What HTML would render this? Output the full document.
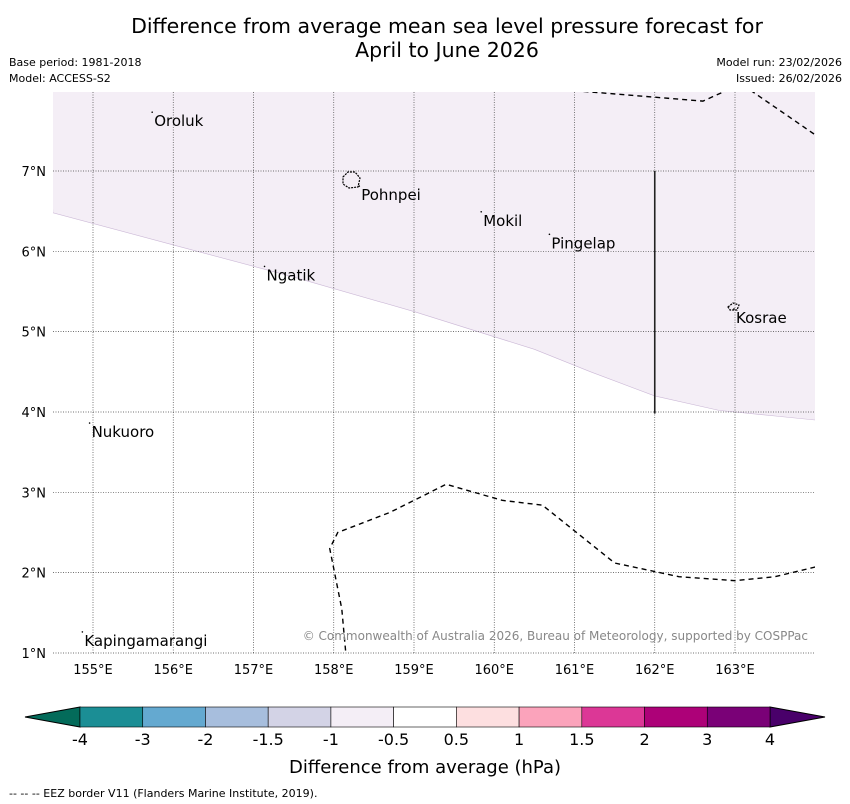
<!DOCTYPE html>
<html><head><meta charset="utf-8"><style>
body{margin:0;background:#fff;font-family:"Liberation Sans","DejaVu Sans",sans-serif;}
svg{display:block}
</style></head><body>
<svg width="850" height="804" viewBox="0 0 850 804" xmlns="http://www.w3.org/2000/svg" font-family="DejaVu Sans, Liberation Sans, sans-serif">
<rect width="850" height="804" fill="#fff"/>
<text x="447" y="33" font-size="20.5" text-anchor="middle">Difference from average mean sea level pressure forecast for</text>
<text x="447" y="57" font-size="20.5" text-anchor="middle">April to June 2026</text>
<text x="9" y="66" font-size="11">Base period: 1981-2018</text>
<text x="9" y="82" font-size="11">Model: ACCESS-S2</text>
<text x="842" y="66" font-size="11" text-anchor="end">Model run: 23/02/2026</text>
<text x="842" y="82" font-size="11" text-anchor="end">Issued: 26/02/2026</text>
<g id="map"></g>
<g id="cbar"></g>
<text x="425" y="773" font-size="18" text-anchor="middle">Difference from average (hPa)</text>
<text x="9" y="797" font-size="11">--  --  -- EEZ border V11 (Flanders Marine Institute, 2019).</text>
</svg>
<script>
const lonTicks=[155,156,157,158,159,160,161,162,163];
const latTicks=[1,2,3,4,5,6,7];
const cbLabels=["-4","-3","-2","-1.5","-1","-0.5","0.5","1","1.5","2","3","4"];
const cbColors=["#1b8e95","#64a9d0","#a7bedd","#d3d3e6","#f4eef6","#ffffff","#fddfe0","#fba3bb","#dc3796","#ad0178","#7a0177"];
const shadeLon=[154.5,156,157.5,159,160.5,161.2,162,162.8,163.5,164];
const shadeLat=[6.48,6.08,5.68,5.25,4.78,4.5,4.2,4.02,3.95,3.9];
const topLon=[161,162.6,163,163.2,164];
const topLat=[8.0,7.87,8.05,8.0,7.45];
const botLon=[164,163.5,163,162.3,161.5,161,160.6,160.1,159.4,158.7,158.05,157.95,158.1,158.15];
const botLat=[2.07,1.95,1.9,1.95,2.12,2.52,2.84,2.9,3.1,2.75,2.5,2.3,1.55,1.0];
const places=[["Oroluk",155.75,7.72],["Pohnpei",158.33,6.8],["Mokil",159.85,6.48],["Pingelap",160.7,6.2],["Ngatik",157.15,5.8],["Kosrae",163,5.27],["Nukuoro",154.97,3.85],["Kapingamarangi",154.88,1.25]];
const NS="http://www.w3.org/2000/svg";
const x0=53,x1=815,y0=92,y1=654;
const X=l=>93+(l-155)*80.25, Y=la=>171+(7-la)*80.33;
function mk(t,a,p){const e=document.createElementNS(NS,t);for(const k in a)e.setAttribute(k,a[k]);p.appendChild(e);return e;}
const map=document.getElementById('map');
const defs=mk('defs',{},map);const cp=mk('clipPath',{id:'c'},defs);mk('rect',{x:x0,y:y0,width:x1-x0,height:y1-y0},cp);
const g=mk('g',{'clip-path':'url(#c)'},map);
let d=`M${x0-5},${y0-5} L${x1+5},${y0-5} `;
for(let i=shadeLon.length-1;i>=0;i--)d+=`L${X(shadeLon[i])},${Y(shadeLat[i])} `;
const sh=mk('path',{d:d+'Z',fill:'#f4eef6',stroke:'#cbb8d6','stroke-width':0.6},g);


lonTicks.forEach(l=>{const ln=mk('line',{x1:X(l),x2:X(l),y1:y0,y2:y1,stroke:'#444','stroke-width':0.7,'stroke-dasharray':'1,1.5'},g);

const t=mk('text',{x:X(l),y:674,'font-size':13,'text-anchor':'middle'},map);t.textContent=l+'°E';
});
latTicks.forEach(la=>{const ln=mk('line',{x1:x0,x2:x1,y1:Y(la),y2:Y(la),stroke:'#444','stroke-width':0.7,'stroke-dasharray':'1,1.5'},g);

const t=mk('text',{x:46,y:Y(la)+5,'font-size':13,'text-anchor':'end'},map);t.textContent=la+'°N';
});
function pl(lo,la){return lo.map((v,i)=>(i?'L':'M')+X(v)+','+Y(la[i])).join(' ');}
const e1=mk('path',{d:pl(topLon,topLat),fill:'none',stroke:'#000','stroke-width':1.4,'stroke-dasharray':'5,4'},g);

const e2=mk('path',{d:pl(botLon,botLat),fill:'none',stroke:'#000','stroke-width':1.4,'stroke-dasharray':'5,4'},g);

const vl=mk('line',{x1:X(162),x2:X(162),y1:Y(7),y2:Y(3.98),stroke:'#222','stroke-width':1.6},g);

const pi=mk('path',{d:'M343,177 L348,172 L355,172 L360,178 L358,187 L349,188 L343,184 Z',fill:'none',stroke:'#000','stroke-width':1.2,'stroke-dasharray':'2,1'},g);

const ki=mk('path',{d:'M728,307 L733,303 L739,305 L737,310 L730,310 Z',fill:'none',stroke:'#000','stroke-width':1.2,'stroke-dasharray':'2,1'},g);

places.forEach(p=>{const t=mk('text',{x:X(p[1])+1,y:Y(p[2])+13,'font-size':15},g);t.textContent=p[0];

mk('circle',{cx:X(p[1])-1,cy:Y(p[2])-1,r:0.8,fill:'#000'},g);});
const cr=mk('text',{x:808,y:640,'font-size':12,fill:'#888','text-anchor':'end'},g);
cr.textContent='© Commonwealth of Australia 2026, Bureau of Meteorology, supported by COSPPac';

const cb=document.getElementById('cbar');
const cx0=80,cx1=770,cy=707,ch=20,w=(cx1-cx0)/cbColors.length;
const lt=mk('polygon',{points:`${cx0},${cy} 25,${cy+ch/2} ${cx0},${cy+ch}`,fill:'#036b5a',stroke:'#000'},cb);

const rt=mk('polygon',{points:`${cx1},${cy} 825,${cy+ch/2} ${cx1},${cy+ch}`,fill:'#49006a',stroke:'#000'},cb);

cbColors.forEach((c,i)=>{const r=mk('rect',{x:cx0+i*w,y:cy,width:w,height:ch,fill:c,stroke:'#000','stroke-width':0.6},cb);
});
cbLabels.forEach((l,i)=>{const t=mk('text',{x:cx0+i*w,y:745,'font-size':16,'text-anchor':'middle'},cb);t.textContent=l;
});
</script>
</body></html>
